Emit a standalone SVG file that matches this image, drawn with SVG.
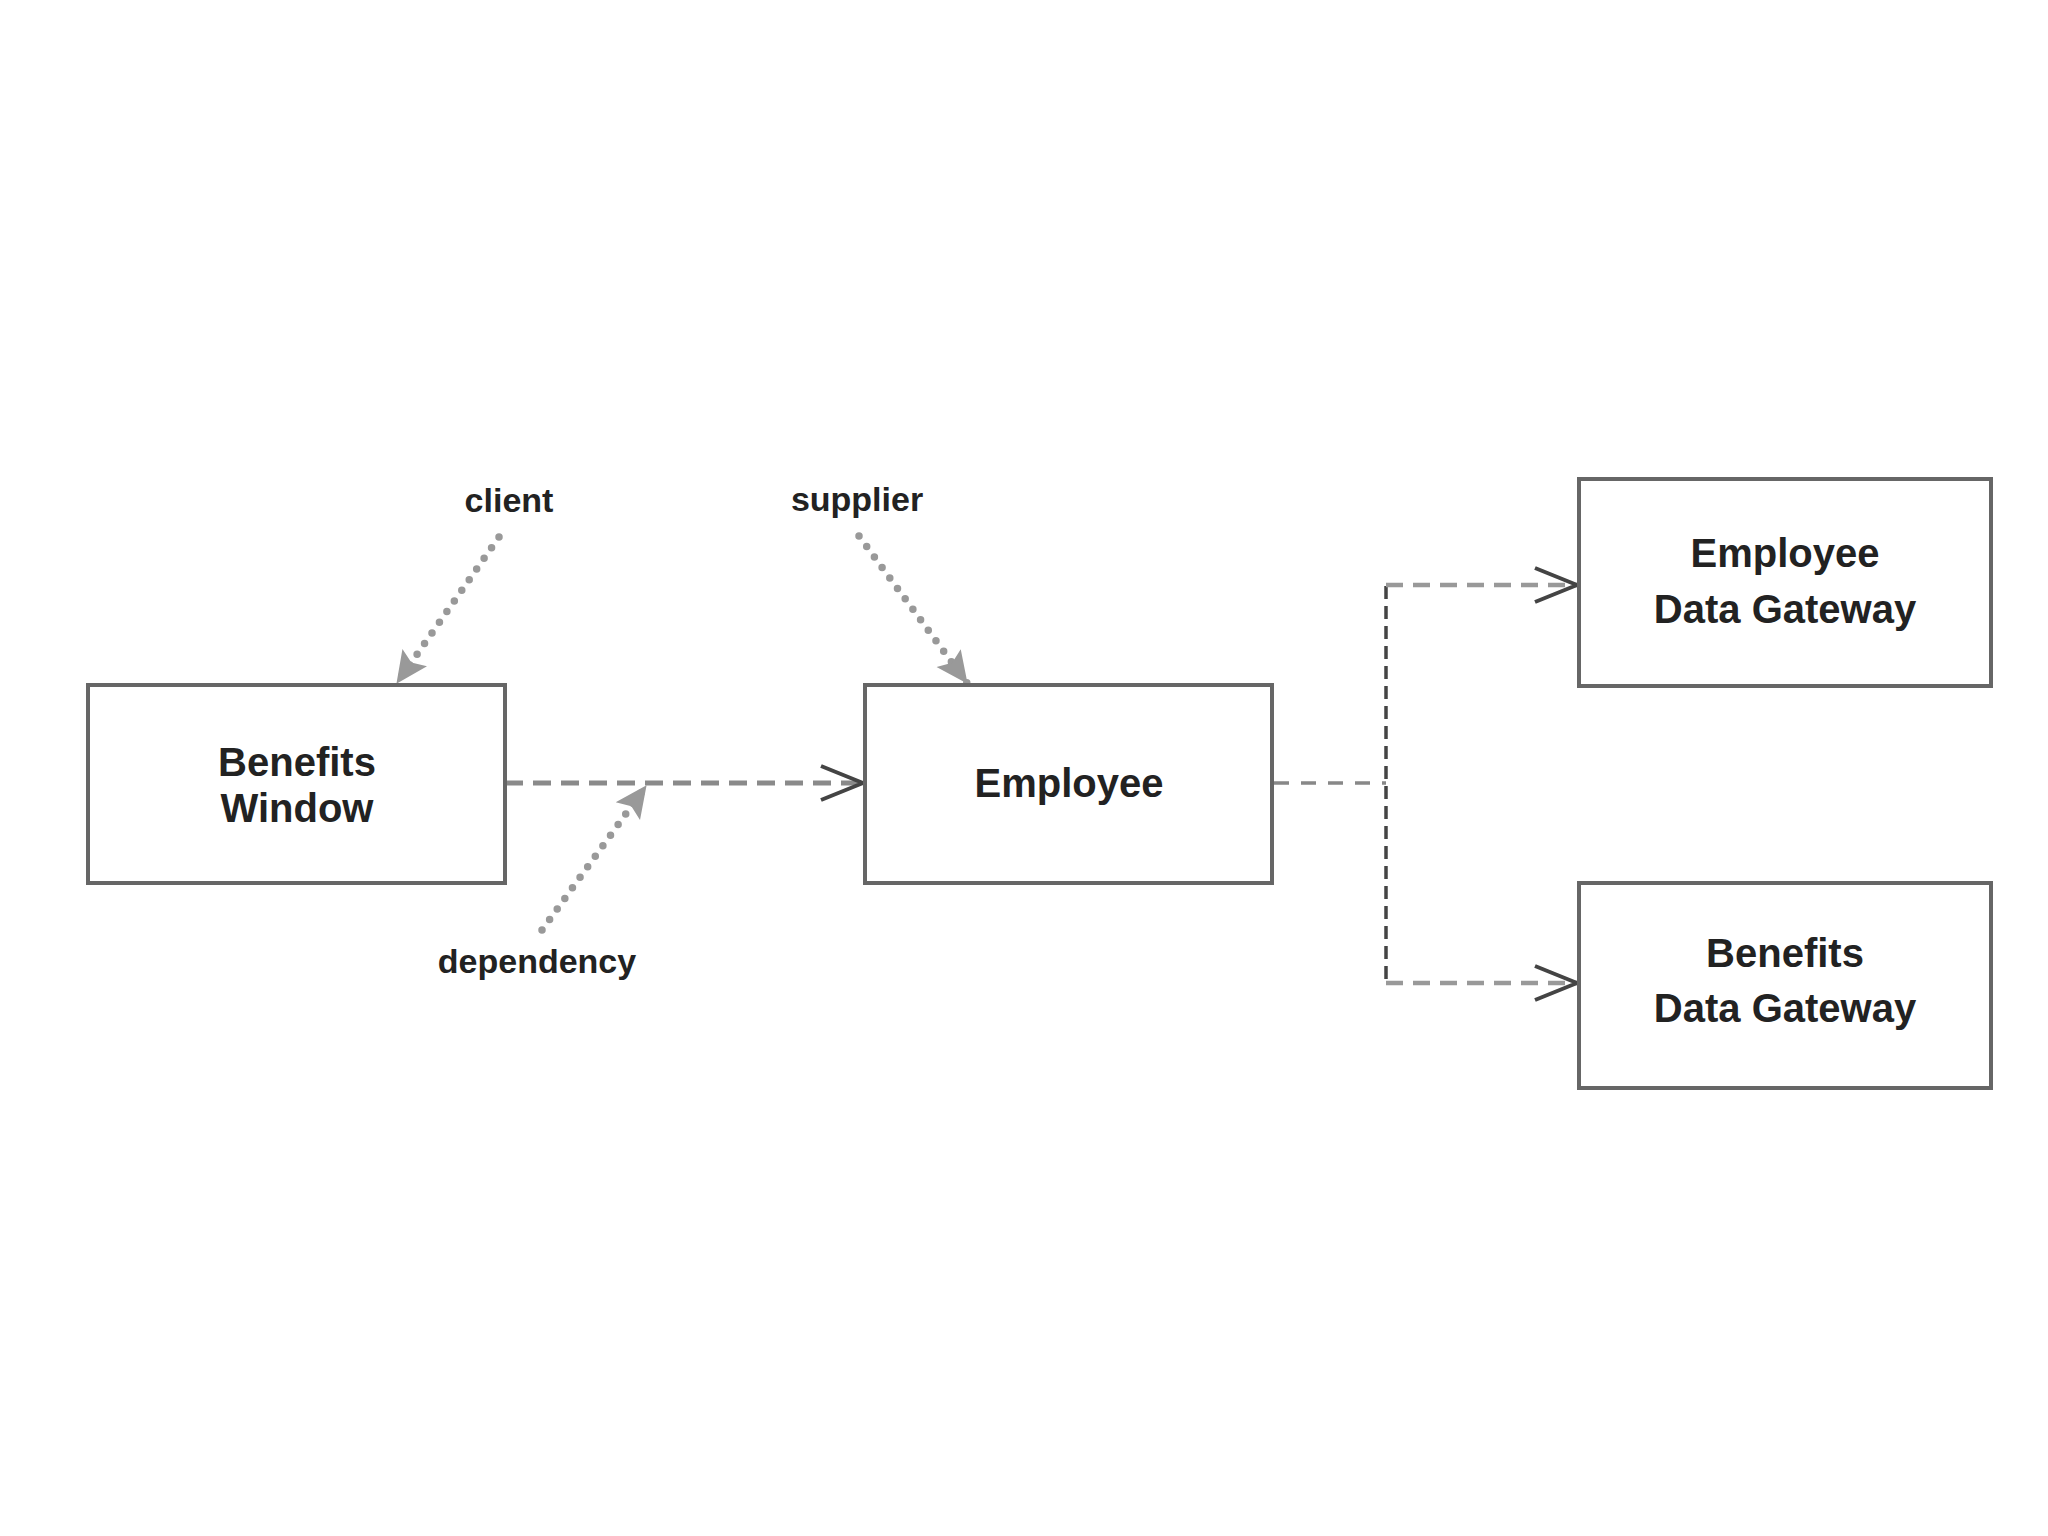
<svg xmlns="http://www.w3.org/2000/svg" width="2048" height="1536" viewBox="0 0 2048 1536">
  <style>
    .box { fill: #ffffff; stroke: #666666; stroke-width: 4; }
    .label { font-family: "Liberation Sans", Arial, sans-serif; font-weight: bold; font-size: 40px; fill: #222222; text-anchor: middle; }
    .note { font-family: "Liberation Sans", Arial, sans-serif; font-weight: bold; font-size: 34px; fill: #222222; text-anchor: middle; }
    .dep { fill: none; stroke: #8a8a8a; stroke-width: 5; stroke-dasharray: 18 10; }
    .dep2 { fill: none; stroke: #999999; stroke-width: 4.5; stroke-dasharray: 17 10; }
    .trunk { fill: none; stroke: #444444; stroke-width: 3.5; stroke-dasharray: 13 7; }
    .stub { fill: none; stroke: #888888; stroke-width: 3.5; stroke-dasharray: 15 12; }
    .dot { fill: none; stroke: #999999; stroke-width: 7.5; stroke-linecap: round; stroke-dasharray: 0 13; }
  </style>
  <defs>
    <marker id="open" viewBox="0 0 46 38" refX="44" refY="19" markerWidth="46" markerHeight="38" markerUnits="userSpaceOnUse" orient="auto">
      <path d="M2,2 L44,19 L2,36" fill="none" stroke="#444444" stroke-width="4"/>
    </marker>
    <marker id="solid" viewBox="0 0 32 32" refX="31" refY="16" markerWidth="32" markerHeight="32" markerUnits="userSpaceOnUse" orient="auto">
      <path d="M0,1 L32,16 L0,31 L6,16 Z" fill="#999999"/>
    </marker>
  </defs>
  <rect width="2048" height="1536" fill="#ffffff"/>

  <g id="connectors">
    <line class="dep" x1="505" y1="783" x2="863" y2="783" marker-end="url(#open)"/>
    <line class="stub" x1="1274" y1="783" x2="1386" y2="783"/>
    <line class="trunk" x1="1386" y1="586" x2="1386" y2="983"/>
    <line class="dep2" x1="1386" y1="585" x2="1577" y2="585" marker-end="url(#open)"/>
    <line class="dep2" x1="1386" y1="983" x2="1577" y2="983" marker-end="url(#open)"/>
  </g>

  <g id="annotations">
    <g id="note-client">
      <text class="note" x="509" y="512">client</text>
      <line class="dot" x1="499" y1="537" x2="397" y2="683" marker-end="url(#solid)"/>
    </g>
    <g id="note-supplier">
      <text class="note" x="857" y="511">supplier</text>
      <line class="dot" x1="859" y1="536" x2="967" y2="683" marker-end="url(#solid)"/>
    </g>
    <g id="note-dependency">
      <text class="note" x="537" y="973">dependency</text>
      <line class="dot" x1="542" y1="930" x2="646" y2="786" marker-end="url(#solid)"/>
    </g>
  </g>

  <g id="benefits-window">
    <rect class="box" x="88" y="685" width="417" height="198"/>
    <text class="label" x="297" y="776">Benefits</text>
    <text class="label" x="297" y="822">Window</text>
  </g>

  <g id="employee">
    <rect class="box" x="865" y="685" width="407" height="198"/>
    <text class="label" x="1069" y="797">Employee</text>
  </g>

  <g id="employee-data-gateway">
    <rect class="box" x="1579" y="479" width="412" height="207"/>
    <text class="label" x="1785" y="567">Employee</text>
    <text class="label" x="1785" y="623">Data Gateway</text>
  </g>

  <g id="benefits-data-gateway">
    <rect class="box" x="1579" y="883" width="412" height="205"/>
    <text class="label" x="1785" y="967">Benefits</text>
    <text class="label" x="1785" y="1022">Data Gateway</text>
  </g>
</svg>
